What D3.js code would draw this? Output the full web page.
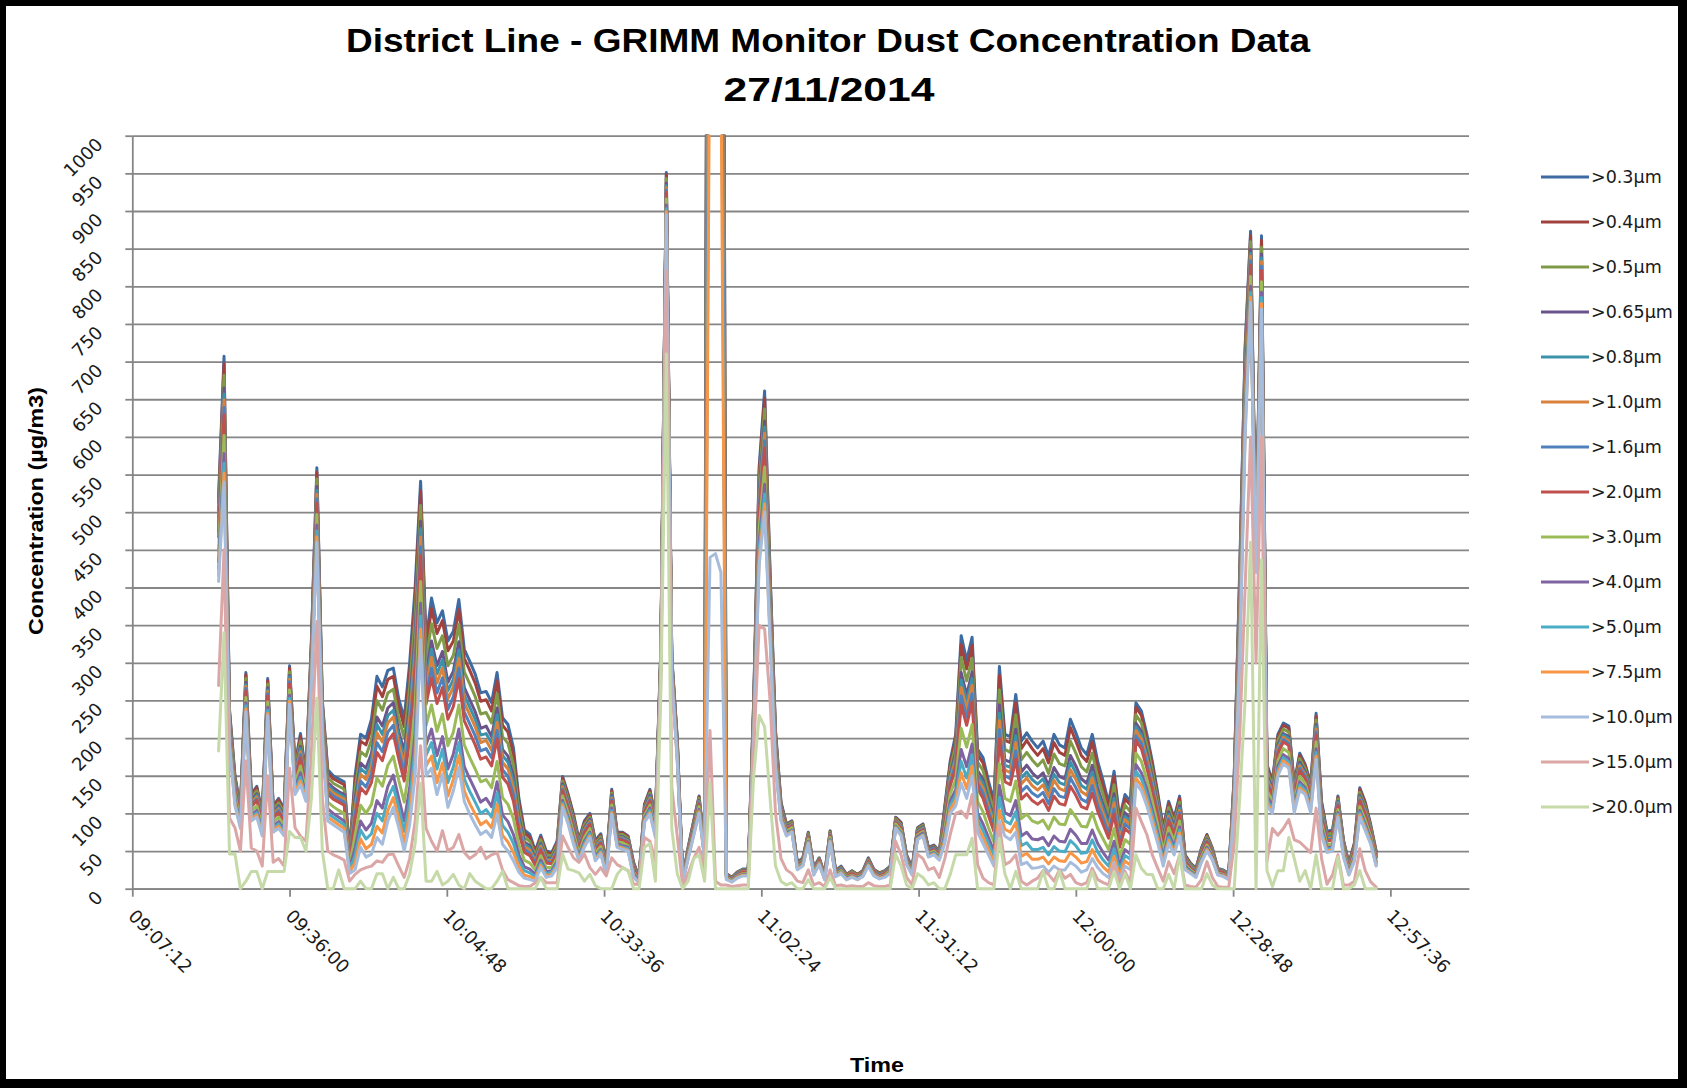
<!DOCTYPE html>
<html><head><meta charset="utf-8">
<script src="https://cdn.jsdelivr.net/npm/d3@7"></script>
<style>html,body{margin:0;padding:0;background:#000;}svg{display:block;}</style>
</head><body>
<svg id="chart" width="1687" height="1088"></svg>
<script>
const titleLines = ["District Line - GRIMM Monitor Dust Concentration Data", "27/11/2014"];
const xTitle = "Time";
const yTitle = "Concentration (µg/m3)";
const seriesNames = [">0.3µm",">0.4µm",">0.5µm",">0.65µm",">0.8µm",">1.0µm",">1.6µm",">2.0µm",">3.0µm",">4.0µm",">5.0µm",">7.5µm",">10.0µm",">15.0µm",">20.0µm"];
const seriesColors = ["#3d6ba2","#a2423f","#7f9b49","#6a5489","#3c92aa","#d9823d","#4f81bd","#c0504d","#9bbb59","#8064a2","#4bacc6","#f79646","#a5bcdc","#dba7a6","#c6d9a8"];
const xTickLabels = ["09:07:12","09:36:00","10:04:48","10:33:36","11:02:24","11:31:12","12:00:00","12:28:48","12:57:36"];
const xDomain = ["09:07:12","13:12:00"];
const yTickValues = [0,50,100,150,200,250,300,350,400,450,500,550,600,650,700,750,800,850,900,950,1000];
const startTime = "09:23:00"; // one reading per minute

const s03 = [520,707,238,150,108,287,126,136,100,279, 110,120,105,296,165,206,151,330,559,250, 158,150,146,142,50,150,205,200,225,282, 268,290,293,252,226,300,400,541,330,386, 353,369,329,342,384,318,302,285,260,262, 247,287,227,218,187,120,78,72,50,71, 50,48,63,149,126,99,65,90,100,64, 73,35,132,75,75,70,35,15,112,132, 95,320,951,308,200,15,55,90,123,55, 3000,3000,2500,20,15,22,26,26,250,560, 661,420,210,115,86,90,35,41,75,28, 41,19,77,24,30,19,24,19,24,41, 26,21,24,30,95,88,45,28,81,86, 55,58,50,110,170,205,336,303,334,185, 174,143,116,295,205,202,258,196,207,196, 187,196,176,205,191,187,225,207,187,178, 205,169,143,114,156,94,125,116,247,236, 205,169,127,81,116,94,123,45,34,27, 54,72,54,27,25,20,150,420,720,873, 450,867,165,143,205,220,216,140,180,165, 140,233,116,76,78,123,65,34,60,134, 115,85,50];
const s04 = [513,697,235,148,106,284,124,134,98,276, 108,118,103,293,163,202,149,326,553,247, 154,146,142,138,48,142,196,191,214,269, 255,278,282,242,215,287,385,528,319,372, 339,356,316,329,371,306,290,273,249,251, 236,276,217,208,178,114,74,68,48,68, 48,46,61,147,124,97,63,88,98,62, 71,34,130,74,74,69,34,15,111,130, 93,318,948,306,198,15,54,89,122,54, 2900,2900,2400,20,15,22,25,25,247,552, 651,415,207,113,85,89,34,40,74,27, 40,19,76,24,29,19,23,19,24,40, 25,21,23,29,94,87,44,27,80,85, 54,57,49,107,166,199,324,292,323,178, 167,137,111,283,197,194,247,186,197,186, 177,186,167,194,181,177,214,196,177,169, 195,161,136,108,149,89,119,111,241,230, 199,164,123,78,113,91,120,44,33,26, 53,71,53,26,24,20,147,413,713,867, 448,861,162,140,202,217,213,138,177,163, 138,229,113,74,76,121,64,33,59,132, 113,83,49];
const s05 = [503,682,231,144,104,279,121,130,95,272, 105,114,100,288,159,196,146,321,544,242, 148,140,136,132,45,131,182,176,198,250, 237,260,265,226,200,268,362,509,303,352, 319,336,296,310,351,288,272,255,232,234, 220,259,202,193,164,105,68,63,44,65, 45,43,58,143,120,93,61,85,95,60, 69,32,127,72,72,67,32,14,108,127, 91,315,943,304,195,14,53,87,120,53, 2700,2700,2200,19,14,21,25,25,242,540, 637,406,202,111,84,88,33,39,73,26, 40,18,75,23,28,18,23,18,23,39, 25,20,23,28,93,85,43,26,79,84, 53,56,48,102,159,191,307,276,306,168, 157,128,103,264,185,181,231,171,181,171, 163,171,153,179,166,163,196,180,162,155, 180,148,125,99,138,82,111,102,231,220, 191,156,117,73,108,87,115,42,32,25, 51,69,52,26,24,19,144,402,702,859, 445,852,157,137,197,212,208,134,173,159, 134,224,109,72,74,119,62,32,56,128, 109,81,47];
const s065 = [492,665,226,140,101,274,117,126,92,267, 101,110,96,283,155,189,142,315,534,237, 141,134,129,125,42,119,167,160,180,228, 216,240,247,209,182,246,337,488,285,329, 296,315,274,289,328,267,251,235,213,216, 202,240,185,176,149,95,62,57,40,60, 41,40,54,139,116,89,58,81,92,57, 66,31,124,70,69,65,30,13,106,124, 88,312,937,301,192,13,51,85,117,51, 2500,2500,2000,18,13,20,24,24,237,527, 621,397,197,109,82,86,32,38,71,25, 39,17,73,22,27,17,22,17,22,38, 24,19,22,27,91,83,42,25,77,82, 52,55,47,97,152,181,287,257,288,157, 145,118,94,244,171,168,212,155,164,154, 147,154,137,161,149,146,177,163,146,140, 164,134,112,89,126,73,101,93,220,209, 181,148,110,68,102,82,110,40,30,24, 49,66,50,25,23,18,139,390,690,849, 442,843,151,132,191,206,202,130,168,155, 130,218,104,69,71,116,59,30,54,124, 105,78,45];
const s08 = [486,657,224,138,100,271,115,124,91,264, 99,108,94,281,153,186,140,312,529,235, 138,130,126,122,41,112,160,153,171,218, 205,230,237,201,173,235,325,478,276,318, 285,304,263,278,317,257,241,225,204,206, 193,231,177,168,142,91,59,54,38,58, 39,39,52,137,114,87,57,79,90,56, 65,30,122,69,68,64,29,13,105,122, 87,311,934,300,191,13,50,84,116,50, 2400,2400,1900,18,13,20,23,23,235,521, 613,393,195,107,81,85,32,38,70,25, 38,17,72,22,27,17,21,17,22,38, 23,19,21,27,90,83,41,25,76,81, 51,54,46,95,149,176,277,248,279,152, 140,114,90,233,164,161,203,147,155,145, 139,146,130,152,141,138,168,154,137,132, 155,127,106,84,120,69,96,89,215,204, 176,144,107,66,99,79,107,39,30,23, 48,65,49,24,22,18,137,384,684,844, 441,838,148,130,188,204,199,128,165,153, 128,215,102,68,70,115,58,29,53,122, 104,77,44];
const s10 = [481,649,221,136,98,269,113,122,89,262, 98,106,93,278,151,182,139,309,524,232, 134,127,123,119,39,106,152,145,162,207, 195,220,228,192,164,225,312,467,267,307, 273,293,252,268,306,247,231,215,194,197, 184,221,168,159,134,86,56,51,36,56, 38,37,51,135,112,85,55,78,89,55, 64,29,120,68,67,63,28,13,104,120, 86,309,931,298,189,13,50,83,115,50, 2200,2200,1800,17,13,19,23,23,232,514, 605,388,192,106,80,85,31,37,70,24, 38,17,72,21,26,17,21,17,21,37, 23,18,21,26,90,82,40,24,75,80, 50,53,46,92,145,172,267,239,270,146, 134,109,86,223,158,154,194,139,147,137, 131,138,122,144,133,130,158,145,129,124, 147,120,100,79,114,65,92,84,210,199, 172,140,104,63,96,77,104,38,29,23, 47,64,48,24,22,17,135,378,678,840, 439,833,146,128,186,201,196,126,163,151, 126,212,100,66,68,113,57,28,52,120, 102,76,43];
const s16 = [474,639,218,134,97,266,111,119,88,259, 96,104,91,275,149,178,137,305,518,229, 130,123,119,115,38,99,143,135,152,194, 182,208,217,182,154,212,297,454,256,293, 260,280,238,255,293,235,219,203,183,186, 174,210,158,149,125,80,52,47,34,53, 36,35,49,132,110,83,54,76,87,53, 62,28,118,67,66,62,27,12,102,118, 84,308,928,297,188,12,49,82,114,49, 2000,2000,1700,17,13,19,22,22,229,507, 595,383,189,105,79,84,31,36,69,24, 37,16,71,21,26,16,20,16,21,36, 22,18,20,26,89,81,40,24,74,79, 50,53,45,89,141,166,256,228,259,140, 127,103,81,211,150,146,183,129,136,127, 122,128,113,133,123,121,147,134,119,115, 137,111,93,73,106,60,86,79,203,193, 166,135,100,60,93,74,101,37,28,22, 46,63,47,23,21,17,132,371,671,834, 438,827,142,125,182,198,193,124,160,149, 124,208,97,65,67,112,56,27,50,118, 99,74,42];
const s20 = [467,629,215,131,95,263,109,117,86,256, 94,101,89,272,146,174,135,302,512,226, 126,119,115,111,36,91,134,126,141,181, 170,196,206,172,143,199,282,442,245,280, 246,267,225,242,279,223,207,191,172,175, 163,199,148,139,116,74,48,44,31,51, 34,33,47,130,107,80,52,74,85,51, 60,27,116,66,64,61,26,12,101,116, 82,306,925,295,186,12,48,81,112,48, 1900,1900,1600,16,12,18,22,22,226,499, 585,378,186,103,78,83,30,36,68,23, 37,16,70,20,25,16,20,16,20,36, 22,17,20,25,88,80,39,23,73,78, 49,52,44,86,137,160,244,217,248,133, 120,97,76,199,142,138,172,119,126,117, 112,118,104,123,113,111,136,124,109,106, 127,103,85,67,99,55,80,73,197,186, 160,130,96,57,90,71,98,36,27,21, 45,62,46,23,21,16,130,364,664,828, 436,821,139,123,179,195,190,122,157,146, 122,204,94,63,65,110,54,26,49,116, 97,73,41];
const s30 = [449,602,208,125,90,254,103,110,81,248, 88,95,83,264,140,163,129,292,497,219, 115,109,104,100,31,71,111,100,112,147, 136,164,176,144,115,165,243,408,217,244, 209,232,190,208,244,191,174,159,142,145, 134,169,121,112,93,58,38,34,25,44, 28,28,41,123,101,74,47,68,80,47, 56,24,111,62,61,57,22,11,97,111, 78,301,916,290,181,11,46,77,109,46, 1700,1700,1500,15,11,17,20,20,219,478, 560,363,179,99,76,81,29,34,66,22, 35,15,68,19,24,15,18,15,19,34, 20,16,18,24,86,77,37,22,71,76, 47,50,42,79,126,145,213,188,218,116, 102,81,62,166,120,116,143,93,99,90, 87,91,79,95,86,85,105,95,83,82, 101,80,66,52,80,42,65,59,180,169, 145,116,85,49,81,63,90,32,25,19, 42,58,44,21,19,15,123,344,644,813, 431,806,130,116,170,186,181,115,149,140, 115,195,87,58,60,105,51,24,45,109, 91,69,37];
const s40 = [434,578,201,119,86,247,98,104,77,241, 83,89,78,257,134,154,124,284,483,212, 106,100,95,90,27,54,90,78,87,117, 107,136,151,120,90,134,208,379,191,212, 177,202,159,179,212,162,146,131,115,120, 109,142,98,89,72,45,29,26,19,38, 23,24,36,117,95,68,43,63,75,43, 52,22,107,60,57,55,20,10,94,107, 74,297,908,286,177,10,43,75,105,43, 1500,1500,1350,14,10,16,19,19,212,460, 537,351,172,96,74,78,27,33,63,20, 34,14,65,18,22,14,17,14,18,33, 19,15,17,22,83,74,35,20,69,74, 45,48,41,72,116,132,185,162,192,100, 86,68,50,137,101,97,117,70,75,66, 65,68,57,70,63,62,79,71,60,60, 78,60,48,38,63,31,52,46,165,154, 132,104,75,42,73,56,82,30,23,18, 39,55,42,20,18,14,117,328,628,800, 427,792,123,110,163,178,173,110,142,134, 110,186,81,54,56,101,47,22,42,104, 86,65,35];
const s50 = [425,565,197,116,84,243,95,101,75,237, 80,86,75,253,131,148,121,279,475,208, 100,95,90,85,25,44,78,66,73,100, 90,120,136,107,76,117,188,362,177,194, 159,185,141,162,194,146,129,115,100,105, 95,127,84,75,60,37,24,21,16,34, 20,22,33,114,92,65,41,60,73,41, 50,21,104,58,55,53,18,9,92,104, 72,295,903,284,175,9,42,73,103,42, 1350,1350,1250,13,10,15,18,18,208,450, 524,344,168,94,72,77,27,32,62,20, 33,13,64,17,22,13,16,13,17,32, 18,14,16,22,82,73,34,20,67,72, 44,47,40,68,111,124,169,147,178,92, 77,60,43,121,90,86,102,57,61,52, 52,55,45,56,50,49,64,57,47,48, 65,49,38,30,53,24,44,39,156,146, 124,98,70,38,68,52,78,28,22,17, 38,53,40,19,17,13,113,318,618,792, 425,785,118,106,158,174,168,107,138,131, 107,181,77,52,54,99,45,20,40,101, 83,63,33];
const s75 = [416,552,193,113,82,239,93,98,72,233, 77,83,72,249,128,143,118,274,467,204, 95,90,85,80,22,34,66,53,59,83, 74,104,121,93,62,100,168,345,163,176, 141,167,123,145,177,130,113,99,85,90, 81,112,71,62,48,29,18,16,13,31, 17,19,30,111,89,62,39,57,70,39, 48,19,101,56,54,51,16,8,90,101, 70,292,899,282,172,8,41,71,102,41, 1200,1200,1100,13,9,15,18,18,204,439, 511,336,164,92,71,76,26,31,61,19, 33,12,63,17,21,12,16,12,17,31, 18,14,16,21,81,71,33,19,66,71, 43,46,39,64,105,117,154,133,163,83, 68,52,36,104,79,75,88,43,47,39, 39,42,33,42,37,36,48,42,34,36, 52,38,29,22,43,18,37,31,147,137, 117,91,65,34,64,48,74,26,21,16, 36,52,39,19,17,13,110,308,608,785, 422,777,114,103,154,170,164,104,134,128, 104,176,73,50,52,97,44,19,38,98, 80,61,31];
const s100 = [408,540,190,110,80,235,90,95,70,230, 75,80,70,245,125,138,116,270,460,200, 90,85,80,75,20,25,55,42,46,68, 59,90,108,81,50,85,150,330,150,160, 125,152,108,130,161,116,99,85,72,77, 68,99,59,50,37,22,14,12,10,28, 15,17,28,108,86,59,37,55,68,37, 46,18,99,55,52,50,15,8,88,99, 68,290,895,280,170,8,40,70,100,40, 440,445,420,12,9,14,17,17,200,430, 500,330,160,90,70,75,25,30,60,18, 32,12,62,16,20,12,15,12,16,30, 17,13,15,20,80,70,32,18,65,70, 42,45,38,60,100,110,140,120,150,75, 60,45,30,90,70,65,75,32,35,27, 28,30,22,30,25,25,35,30,22,25, 40,28,20,15,35,12,30,25,140,130, 110,85,60,30,60,45,70,25,20,15, 35,50,38,18,16,12,107,300,600,778, 420,770,110,100,150,166,160,101,131,125, 101,172,70,48,50,95,42,18,36,95, 77,59,30];
const s150 = [270,450,94,81,50,170,54,50,30,150, 35,40,30,160,81,70,63,180,355,120, 50,45,42,38,10,19,25,28,30,37, 35,45,46,30,15,40,90,190,80,63, 50,77,50,55,72,48,40,45,55,40, 45,48,25,12,8,4,3,3,8,15, 8,8,8,70,55,41,35,46,28,19, 28,17,41,32,28,24,6,6,68,63, 37,280,820,135,70,3,20,40,55,25, 210,10,5,5,3,4,5,5,180,350, 345,250,100,40,25,20,10,8,25,5, 8,3,25,4,5,3,4,3,3,8, 4,3,3,5,63,45,15,5,46,40, 25,28,15,40,72,100,103,94,125,32, 14,8,5,85,32,36,45,10,5,10, 14,24,19,10,25,14,19,8,5,8, 27,12,8,5,32,6,23,8,107,89, 72,45,27,10,36,20,45,5,3,2, 12,36,15,3,2,2,60,200,400,600, 300,600,36,80,71,80,92,65,62,55, 48,107,40,6,18,45,5,5,10,53, 24,9,2];
const s200 = [183,340,46,46,0,10,23,23,0,23, 23,23,23,76,68,68,50,120,253,50, 0,0,25,0,0,0,10,0,0,20, 20,0,15,0,0,20,60,140,10,10, 23,5,10,19,5,0,20,10,5,0, 0,10,23,0,0,0,0,0,0,15, 0,0,0,46,26,24,21,10,19,4, 0,0,0,19,28,24,0,0,55,60, 10,260,710,80,20,0,10,40,45,10, 140,0,0,0,0,0,0,0,150,230, 215,120,30,10,5,8,0,0,12,0, 0,0,15,0,0,0,0,0,0,0, 0,0,0,0,46,30,5,0,20,15, 5,8,0,0,19,45,45,45,67,0, 0,0,0,67,20,0,23,0,0,0, 0,23,0,0,23,0,0,0,0,0, 23,0,0,0,23,0,20,0,45,27, 19,19,0,0,19,0,45,0,0,0, 0,20,5,0,0,0,0,120,250,460, 0,437,24,3,24,24,68,40,10,24, 0,45,0,0,0,42,0,0,5,24, 0,0,0];

const seriesValues = [s03,s04,s05,s065,s08,s10,s16,s20,s30,s40,s50,s75,s100,s150,s200];

// ---------- drawing ----------
const W = 1687, H = 1088;
const plot = {left: 132.3, right: 1469, top: 135.7, bottom: 888.7};
const parseT = d3.timeParse("%H:%M:%S");
const t0 = parseT(startTime);
const times = s03.map((_, i) => d3.timeMinute.offset(t0, i));

const x = d3.scaleTime().domain(xDomain.map(parseT)).range([plot.left, plot.right]);
const y = d3.scaleLinear().domain([0, 1000]).range([plot.bottom, plot.top]);

const svg = d3.select("#chart");
svg.append("rect").attr("width", W).attr("height", H).attr("fill", "#000");
svg.append("rect").attr("x", 6).attr("y", 6).attr("width", W - 15).attr("height", H - 15).attr("fill", "#fff");

const gridColor = "#868686";
const tickFont = "'DejaVu Sans', Verdana, sans-serif";

// horizontal gridlines
const grid = svg.append("g").attr("transform", `translate(${plot.left},0)`)
  .call(d3.axisLeft(y).tickValues(yTickValues).tickSize(-(plot.right - plot.left)).tickSizeOuter(0).tickFormat(""));
grid.select(".domain").remove();
grid.selectAll(".tick line").attr("stroke", gridColor).attr("stroke-width", 1.8);

// y axis with ticks and rotated labels
const yAx = svg.append("g").attr("transform", `translate(${plot.left},0)`)
  .call(d3.axisLeft(y).tickValues(yTickValues).tickSize(7).tickSizeOuter(0).tickFormat(d3.format("d")));
yAx.select(".domain").attr("stroke", gridColor).attr("stroke-width", 1.8);
yAx.selectAll(".tick line").attr("stroke", gridColor).attr("stroke-width", 1.8);
yAx.selectAll(".tick text")
  .attr("x", 0).attr("y", 0).attr("dy", "0.35em")
  .attr("transform", "translate(-33,5) rotate(-45)")
  .attr("text-anchor", "end")
  .attr("font-family", tickFont).attr("font-size", 18).attr("fill", "#1a1a1a");

// x axis
const xAx = svg.append("g").attr("transform", `translate(0,${plot.bottom})`)
  .call(d3.axisBottom(x).tickValues(xTickLabels.map(parseT)).tickSize(8).tickSizeOuter(0)
    .tickFormat((d, i) => xTickLabels[i]));
xAx.select(".domain").attr("stroke", gridColor).attr("stroke-width", 1.8);
xAx.selectAll(".tick line").attr("stroke", gridColor).attr("stroke-width", 1.8);
xAx.selectAll(".tick text")
  .attr("x", 0).attr("y", 0).attr("dy", "0.35em")
  .attr("transform", "translate(-1,24) rotate(45)")
  .attr("text-anchor", "start")
  .attr("font-family", tickFont).attr("font-size", 18).attr("fill", "#1a1a1a");

// clip
svg.append("clipPath").attr("id", "plotclip").append("rect")
  .attr("x", plot.left).attr("y", plot.top - 1)
  .attr("width", plot.right - plot.left).attr("height", plot.bottom - plot.top + 4);

const line = d3.line().x((d, i) => x(times[i])).y(d => y(d));
const lines = svg.append("g").attr("clip-path", "url(#plotclip)");
seriesValues.forEach((vals, k) => {
  lines.append("path").datum(vals)
    .attr("d", line)
    .attr("fill", "none")
    .attr("stroke", seriesColors[k])
    .attr("stroke-width", 3)
    .attr("stroke-linejoin", "round")
    .attr("stroke-linecap", "round");
});

// legend
const leg = svg.append("g");
seriesNames.forEach((name, k) => {
  const ly = 177 + 45 * k;
  leg.append("line").attr("x1", 1541).attr("x2", 1589).attr("y1", ly).attr("y2", ly)
    .attr("stroke", seriesColors[k]).attr("stroke-width", 3);
  leg.append("text").attr("x", 1591).attr("y", ly).attr("dy", "0.35em")
    .attr("font-family", tickFont).attr("font-size", 17.5).attr("fill", "#1a1a1a").text(name);
});

// titles
const titleFont = "'Liberation Sans', Arial, sans-serif";
svg.append("text").attr("x", 828).attr("y", 52).attr("text-anchor", "middle")
  .attr("font-family", titleFont).attr("font-weight", "bold").attr("font-size", 34)
  .attr("textLength", 964).attr("lengthAdjust", "spacingAndGlyphs").text(titleLines[0]);
svg.append("text").attr("x", 829).attr("y", 101).attr("text-anchor", "middle")
  .attr("font-family", titleFont).attr("font-weight", "bold").attr("font-size", 34)
  .attr("textLength", 211).attr("lengthAdjust", "spacingAndGlyphs").text(titleLines[1]);

svg.append("text").attr("x", 877).attr("y", 1072).attr("text-anchor", "middle")
  .attr("font-family", titleFont).attr("font-weight", "bold").attr("font-size", 20)
  .attr("textLength", 54).attr("lengthAdjust", "spacingAndGlyphs").text(xTitle);
svg.append("text").attr("transform", "translate(43,511) rotate(-90)").attr("text-anchor", "middle")
  .attr("font-family", titleFont).attr("font-weight", "bold").attr("font-size", 20)
  .attr("textLength", 248).attr("lengthAdjust", "spacingAndGlyphs").text(yTitle);
</script>
</body></html>
